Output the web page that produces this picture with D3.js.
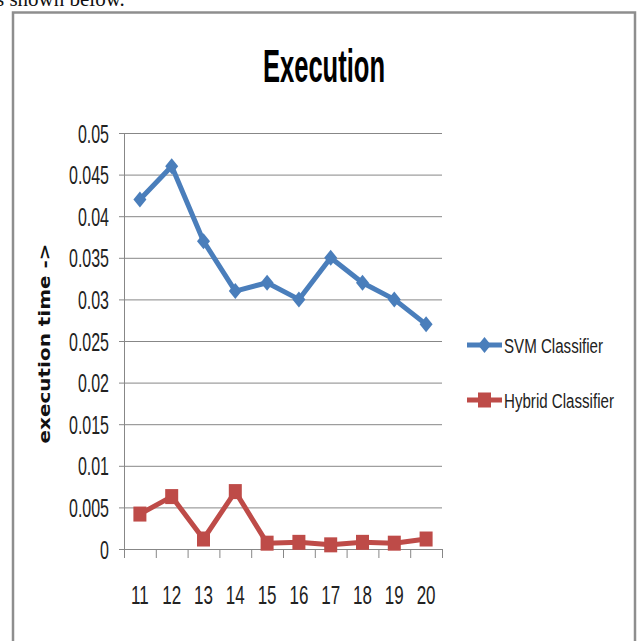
<!DOCTYPE html>
<html>
<head>
<meta charset="utf-8">
<script src="https://cdn.jsdelivr.net/npm/d3@7"></script>
<style>
  html, body { margin: 0; padding: 0; background: #fff; }
  svg { display: block; }
</style>
</head>
<body>
<svg id="chart" width="640" height="641"></svg>
<script>
// ---- data ----
const categories = ["11", "12", "13", "14", "15", "16", "17", "18", "19", "20"];
const svmValues = [0.042, 0.046, 0.037, 0.031, 0.032, 0.030, 0.035, 0.032, 0.030, 0.027];
const hybridValues = [0.0042, 0.0063, 0.0012, 0.0069, 0.0007, 0.0008, 0.0005, 0.0008, 0.0007, 0.0012];
const yTicks = [0, 0.005, 0.01, 0.015, 0.02, 0.025, 0.03, 0.035, 0.04, 0.045, 0.05];
const seriesNames = ["SVM Classifier", "Hybrid Classifier"];
const titleText = "Execution";
const yLabelText = "execution time ->";
const topText = "s shown below.";

// ---- layout ----
const svg = d3.select("#chart");
const plot = { left: 124, right: 442, top: 133, bottom: 549 };
const colors = { svm: "#4A7EBB", hybrid: "#BE4B48", grid: "#878787", frame: "#8E8E8E" };
const sans = "'Liberation Sans', Arial, sans-serif";

const x = d3.scaleBand().domain(categories).range([plot.left, plot.right]).padding(0);
const xEdge = d3.scaleLinear().domain([0, categories.length]).range([plot.left, plot.right]);
const y = d3.scaleLinear().domain([0, 0.05]).range([plot.bottom, plot.top]);
const cx = d => x(d) + x.bandwidth() / 2;

// top clipped text
svg.append("text")
  .attr("x", -4).attr("y", 6)
  .attr("font-family", "'Liberation Serif', 'Times New Roman', serif")
  .attr("font-size", 21).attr("fill", "#111")
  .text(topText);

// frame
svg.append("rect")
  .attr("x", 13).attr("y", 12.5)
  .attr("width", 622).attr("height", 700)
  .attr("fill", "none").attr("stroke", colors.frame).attr("stroke-width", 2.5);

// helper for condensed text
function ctext(parent, tx, ty, sx, txt, opts) {
  const g = parent.append("g").attr("transform", `translate(${tx},${ty}) scale(${sx},1)`);
  const t = g.append("text")
    .attr("font-family", opts.family || sans)
    .attr("font-size", opts.size)
    .attr("font-weight", opts.weight || "normal")
    .attr("text-anchor", opts.anchor || "start")
    .attr("fill", opts.fill || "#111")
    .text(txt);
  return t;
}

// title
ctext(svg, 324, 82, 0.56, titleText, { size: 45.6, weight: "bold", anchor: "middle", fill: "#000" });

// gridlines
const grid = svg.append("g").attr("transform", `translate(${plot.left},0)`)
  .call(d3.axisLeft(y).tickValues(yTicks).tickSize(-(plot.right - plot.left)).tickFormat(""));
grid.select(".domain").remove();
grid.selectAll(".tick line").attr("stroke", colors.grid).attr("stroke-width", 1);

// y axis with small ticks + labels
const yAxis = svg.append("g").attr("transform", `translate(${plot.left},0)`)
  .call(d3.axisLeft(y).tickValues(yTicks).tickSize(5).tickSizeOuter(0).tickFormat(d => String(d)));
yAxis.select(".domain").attr("stroke", colors.grid);
yAxis.selectAll(".tick line").attr("stroke", colors.grid);
const ySx = 0.64;
yAxis.selectAll(".tick text")
  .attr("font-family", sans).attr("font-size", 25).attr("fill", "#222")
  .attr("x", -15 / ySx).attr("dy", "0.36em")
  .attr("transform", `scale(${ySx},1)`);

// x axis: boundary ticks
const xTicksAxis = svg.append("g").attr("transform", `translate(0,${plot.bottom})`)
  .call(d3.axisBottom(xEdge).tickValues(d3.range(categories.length + 1)).tickSize(9).tickSizeOuter(0).tickFormat(""));
xTicksAxis.select(".domain").attr("stroke", colors.grid);
xTicksAxis.selectAll(".tick line").attr("stroke", colors.grid);

// x labels
const xLab = svg.append("g").attr("transform", `translate(0,${plot.bottom})`)
  .call(d3.axisBottom(x).tickSize(0).tickPadding(0));
xLab.select(".domain").remove();
const xSx = 0.68;
xLab.selectAll(".tick text")
  .attr("font-family", sans).attr("font-size", 25).attr("fill", "#222")
  .attr("y", 55).attr("dy", 0)
  .attr("transform", `scale(${xSx},1)`);

// y label
svg.append("text")
  .attr("transform", "translate(50,343.5) scale(0.82,1) rotate(-90)")
  .attr("font-family", "'DejaVu Sans', Verdana, sans-serif")
  .attr("font-size", 20).attr("font-weight", "bold")
  .attr("text-anchor", "middle").attr("fill", "#111")
  .text(yLabelText);

// marker shapes
const DW = 6.5, DH = 8;      // diamond half-width / half-height
const SW = 6.5, SH = 7.5;    // square half-width / half-height
function diamondPath() {
  const p = d3.path();
  p.moveTo(0, -DH); p.lineTo(DW, 0); p.lineTo(0, DH); p.lineTo(-DW, 0); p.closePath();
  return p.toString();
}

const line = d3.line().x((d, i) => cx(categories[i])).y(d => y(d));

// SVM series
svg.append("path").datum(svmValues)
  .attr("d", line).attr("fill", "none")
  .attr("stroke", colors.svm).attr("stroke-width", 5).attr("stroke-linejoin", "round");
svg.append("g").selectAll("path").data(svmValues).join("path")
  .attr("d", diamondPath())
  .attr("transform", (d, i) => `translate(${cx(categories[i])},${y(d)})`)
  .attr("fill", colors.svm);

// Hybrid series
svg.append("path").datum(hybridValues)
  .attr("d", line).attr("fill", "none")
  .attr("stroke", colors.hybrid).attr("stroke-width", 5).attr("stroke-linejoin", "round");
svg.append("g").selectAll("rect").data(hybridValues).join("rect")
  .attr("x", (d, i) => cx(categories[i]) - SW)
  .attr("y", d => y(d) - SH)
  .attr("width", SW * 2).attr("height", SH * 2)
  .attr("fill", colors.hybrid);

// legend
const legend = [
  { name: seriesNames[0], color: colors.svm, marker: "diamond", y: 345 },
  { name: seriesNames[1], color: colors.hybrid, marker: "square", y: 400 }
];
legend.forEach(l => {
  svg.append("line")
    .attr("x1", 467).attr("x2", 502).attr("y1", l.y).attr("y2", l.y)
    .attr("stroke", l.color).attr("stroke-width", 5);
  if (l.marker === "diamond") {
    svg.append("path").attr("d", diamondPath())
      .attr("transform", `translate(484.5,${l.y})`).attr("fill", l.color);
  } else {
    svg.append("rect").attr("x", 484.5 - SW).attr("y", l.y - SH)
      .attr("width", SW * 2).attr("height", SH * 2).attr("fill", l.color);
  }
  ctext(svg, 504, l.y + 7.5, 0.72, l.name, { size: 21, fill: "#222" });
});
</script>
</body>
</html>
